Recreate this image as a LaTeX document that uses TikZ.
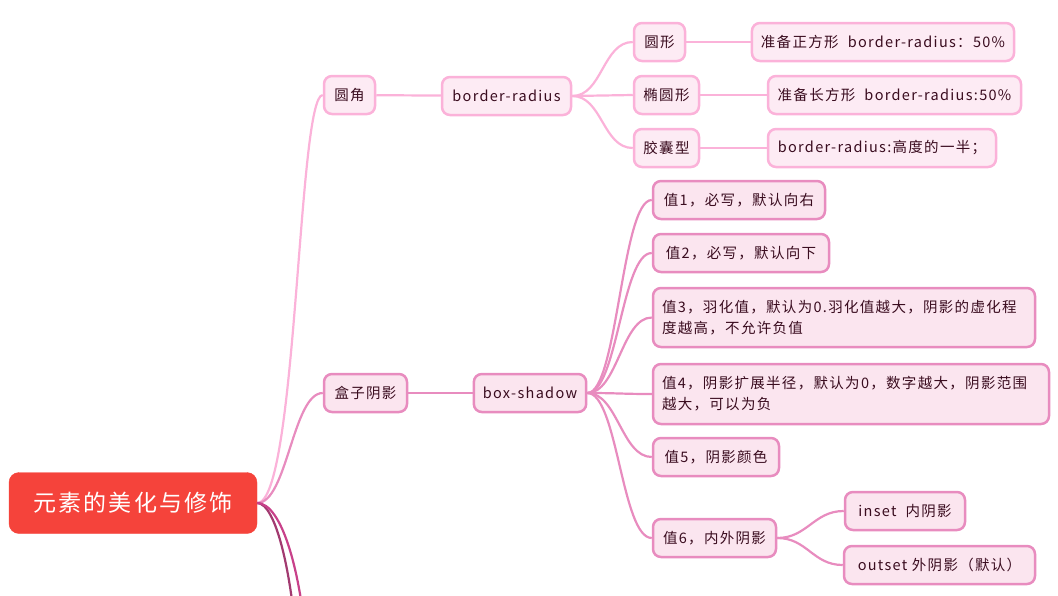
\documentclass[tikz,border=0pt]{standalone}
\usepackage{fontspec}
\setmainfont[LetterSpace=9]{Noto Sans CJK SC}
\usetikzlibrary{positioning}

\definecolor{rootred}{HTML}{F5433B}
\definecolor{pinkA}{HTML}{FBB2D9}
\definecolor{pinkAf}{HTML}{FDEBF4}
\definecolor{pinkB}{HTML}{E88CBF}
\definecolor{pinkBf}{HTML}{FBE5EF}
\definecolor{txt}{HTML}{3A0C1F}
\definecolor{deepA}{HTML}{A23A70}
\definecolor{deepB}{HTML}{C8418A}

\begin{document}
\begin{tikzpicture}[
    x=1pt, y=-1pt,
    font=\fontsize{14.5}{21}\selectfont,
    box/.style={draw, line width=2.5pt, rounded corners=8pt, inner xsep=9pt, inner ysep=6pt,
      minimum height=38pt, text=txt, align=left},
    top/.style={box, draw=pinkA, fill=pinkAf},
    low/.style={box, draw=pinkB, fill=pinkBf},
    link/.style={line width=2.2pt, to path={.. controls +(30,0) and +(-30,0) .. (\tikztotarget)}}
  ]
    \useasboundingbox (0,0) rectangle (1058,595);

    % root
    \node[fill=rootred, draw=rootred, rounded corners=10pt, minimum width=248pt,
      minimum height=61pt, text=white, font=\fontsize{23}{28}\selectfont] (root) at (133,503) {元素的美化与修饰};

    % first branch
    \node[top, minimum width=51pt] (yj) at (349.5,95) {圆角};
    \node[top, minimum width=129pt] (br) at (506.5,96) {border-radius};
    \node[top, minimum width=51pt] (yx) at (659.5,42) {圆形};
    \node[top, minimum width=65pt] (ty) at (666.5,95) {椭圆形};
    \node[top, minimum width=65pt] (jn) at (666.5,148) {胶囊型};
    \node[top, minimum width=262pt] (sq) at (883,42) {准备正方形\ \ border-radius：50\%};
    \node[top, minimum width=253pt] (rc) at (894.5,95) {准备长方形\ \ border-radius:50\%};
    \node[top, minimum width=228pt] (cp) at (882,148) {border-radius:高度的一半；};

    % second branch
    \node[low, minimum width=83pt] (hz) at (365.5,393) {盒子阴影};
    \node[low, minimum width=112pt] (bs) at (530,393) {box-shadow};
    \node[low, minimum width=172pt] (v1) at (739,200) {值1，必写，默认向右};
    \node[low, minimum width=176pt] (v2) at (741,253) {值2，必写，默认向下};
    \node[low, text width=364pt, minimum height=59pt] (v3) at (844,317.5)
      {值3，羽化值，默认为0.羽化值越大，阴影的虚化程\\度越高，不允许负值};
    \node[low, text width=378pt, minimum height=60pt] (v4) at (851,394)
      {值4，阴影扩展半径，默认为0，数字越大，阴影范围\\越大，可以为负};
    \node[low, minimum width=126pt] (v5) at (716,457) {值5，阴影颜色};
    \node[low, minimum width=123pt] (v6) at (714.5,538) {值6，内外阴影};
    \node[low, minimum width=120pt] (in) at (905,511) {inset\ \ 内阴影};
    \node[low, minimum width=191pt] (out) at (939.5,565) {outset 外阴影（默认）};

    % branches leaving the page
    \coordinate (ext1) at (300,690);
    \coordinate (ext2) at (310,690);

    % connectors
    \draw[link, pinkA, to path={.. controls +(40,0) and +(-25,0) .. (\tikztotarget)}] (root.east) to (yj.west);
    \draw[link, pinkB] (root.east) to (hz.west);
    \draw[line width=2.2pt, deepA] (root.east) .. controls +(18,0) and +(-6,-120) .. (ext1);
    \draw[line width=2.2pt, deepB] (root.east) .. controls +(24,0) and +(-6,-120) .. (ext2);

    \draw[pinkA, line width=2.2pt] (yj) -- (br);
    \foreach \c in {yx,ty,jn}
      \draw[link, pinkA] (br.east) to (\c.west);
    \draw[pinkA, line width=2.2pt] (yx) -- (sq);
    \draw[pinkA, line width=2.2pt] (ty) -- (rc);
    \draw[pinkA, line width=2.2pt] (jn) -- (cp);

    \draw[pinkB, line width=2.2pt] (hz) -- (bs);
    \foreach \c in {v1,v2,v3,v4,v5,v6}
      \draw[link, pinkB] (bs.east) to (\c.west);
    \draw[link, pinkB] (v6.east) to (in.west);
    \draw[link, pinkB] (v6.east) to (out.west);
  \end{tikzpicture}
\end{document}
